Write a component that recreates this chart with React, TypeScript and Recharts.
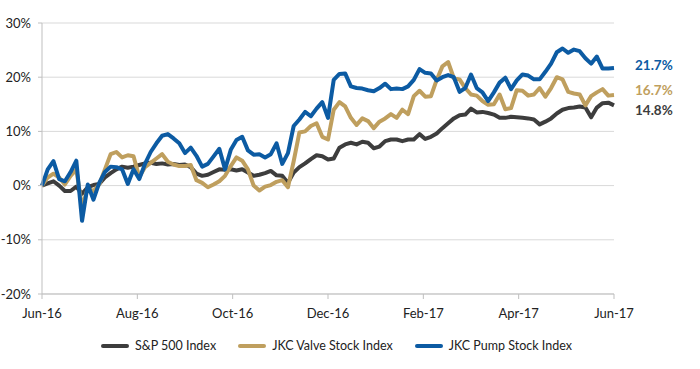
import { CartesianGrid, LabelList, Line, LineChart, XAxis, YAxis } from "recharts";

const months = ["Jun-16", "Aug-16", "Oct-16", "Dec-16", "Feb-17", "Apr-17", "Jun-17"];

// cumulative change, % (about one reading per 2.5 trading days)
const sp500 = [
  0, 0.4, 0.8, 0, -1, -1, -0.2, -1.5, -0.3, 0.1,
  0.3, 1.5, 2.3, 3, 3.5, 3.3, 3.5, 3.8, 4.1, 4.2,
  4, 4.1, 3.9, 4, 3.8, 3.9, 3.4, 2.2, 1.8, 2,
  2.5, 3, 2.9, 3, 2.8, 3, 2.4, 1.8, 2, 2.3,
  2.7, 1.9, 1.8, 0.5, 2.4, 3.4, 4.1, 4.9, 5.6, 5.4,
  4.8, 5, 7, 7.6, 7.9, 7.6, 8.1, 7.9, 6.9, 7.2,
  8.2, 8.5, 8.5, 8.2, 8.5, 8.5, 9.5, 8.6, 9, 9.6,
  10.6, 11.5, 12.4, 13, 13.1, 14.2, 13.5, 13.6, 13.4, 13.1,
  12.5, 12.5, 12.7, 12.6, 12.5, 12.4, 12.2, 11.3, 11.8, 12.4,
  13.3, 14, 14.3, 14.4, 14.6, 14.4, 12.6, 14.4, 15.2, 15.3,
  14.8,
];

const valve = [
  0, 1.5, 2.2, 1.5, 0.2, 1.8, 3, -4, -0.5, -1,
  0.2, 3, 5.8, 6.2, 5.2, 5.6, 5.4, 1.6, 3.4, 4.2,
  5, 5.8, 4.4, 3.9, 3.6, 3.6, 3.8, 1, 0.5, -0.3,
  0.2, 0.8, 1.8, 3.6, 5.2, 4.6, 3, 0, -0.9, -0.2,
  0.1, 0.7, 1, -0.3, 4.5, 9.8, 10, 11, 11.5, 9,
  8.5, 14, 15.4, 14.6, 12.5, 11.2, 12.4, 11.9, 10.6, 11.8,
  12.4, 13.2, 12.5, 14, 13.2, 16.5, 17.5, 16.4, 16.5, 19.5,
  22, 22.8, 19.8, 19.6, 18, 16.8, 16.6, 15.6, 14.9, 15,
  16.8, 14.1, 14.3, 17.6, 17.5, 16.6, 16.8, 18, 16.4, 18,
  20, 19.6, 17.3, 17, 16.8, 14.8, 16.5, 17.2, 17.8, 16.6,
  16.7,
];

const pump = [
  0, 3, 4.5, 1.2, 0.8, 2.5, 4.6, -6.5, 0.2, -2.6,
  0.5, 2.5, 3.5, 3.4, 3, 0.3, 3, 1.2, 4, 6.2,
  7.8, 9.2, 9.5, 8.7, 7.8, 6, 7, 5.5, 3.5, 4,
  5.4, 6.8, 3, 6.6, 8.4, 9, 6.5, 5.7, 5.8, 5.2,
  5.8, 7.8, 4, 6, 11, 12.2, 13.6, 12.8, 14.2, 15.4,
  12.5, 19.5, 20.6, 20.7, 18.3, 18, 17.9, 17.6, 17.4, 18,
  18.8, 17.8, 17.9, 17.8, 18.3, 19.5, 21.5, 20.8, 20.7, 19.4,
  20, 20.4, 20, 17.3, 18, 20.5, 18, 17.2, 15.6, 17.2,
  19, 19.9, 17.8, 19.4, 20.5, 20.3, 19.6, 19.6, 21, 22.5,
  24.6, 25.3, 24.5, 25.1, 24.8, 23.5, 22.5, 23.8, 21.6, 21.6,
  21.7,
];

const endLabels = ["14.8%", "16.7%", "21.7%"];

const last = pump.length - 1;
const data = pump.map((_, i) => ({ i, sp: sp500[i], valve: valve[i], pump: pump[i] }));
const monthTicks = months.map((_, k) => (k * last) / (months.length - 1));

const series = [
  { key: "sp", name: "S&P 500 Index", color: "#3d3d3d", label: endLabels[0], dy: 5 },
  { key: "valve", name: "JKC Valve Stock Index", color: "#bf9f5e", label: endLabels[1], dy: -5 },
  { key: "pump", name: "JKC Pump Stock Index", color: "#0c5ba3", label: endLabels[2], dy: -3 },
];

const font = "Lato, 'Open Sans', sans-serif";

function LegendRow() {
  return (
    <div
      style={{
        position: "absolute",
        left: 101,
        top: 338,
        display: "flex",
        alignItems: "center",
        fontFamily: font,
        fontSize: 12.5,
        color: "#222",
        lineHeight: "16px",
      }}
    >
      {series.map((s) => (
        <div key={s.key} style={{ display: "flex", alignItems: "center", marginRight: 22 }}>
          <div style={{ width: 28, height: 4, borderRadius: 2, background: s.color, marginRight: 6 }} />
          <span>{s.name}</span>
        </div>
      ))}
    </div>
  );
}

export default function App() {
  return (
    <div style={{ position: "absolute", left: 0, top: 0, width: 700, height: 369, background: "#fff" }}>
      <LineChart width={700} height={369} data={data} margin={{ top: 23, right: 86, bottom: 45, left: 0 }}>
        <CartesianGrid horizontal vertical={false} stroke="#d9d9d9" />
        <XAxis
          dataKey="i"
          type="number"
          domain={[0, last]}
          ticks={monthTicks}
          tickFormatter={(v: number) => months[Math.round((v * (months.length - 1)) / last)]}
          stroke="#bfbfbf"
          tickSize={5}
          tickMargin={10}
          tick={{ fill: "#222", fontSize: 13, fontFamily: font }}
          height={30}
        />
        <YAxis
          domain={[-20, 30]}
          ticks={[-20, -10, 0, 10, 20, 30]}
          tickFormatter={(v: number) => `${v}%`}
          stroke="#bfbfbf"
          tickSize={4}
          tickMargin={7}
          width={42}
          tick={{ fill: "#222", fontSize: 13, fontFamily: font }}
        />
        {series.map((s) => (
          <Line
            key={s.key}
            dataKey={s.key}
            name={s.name}
            type="linear"
            stroke={s.color}
            strokeWidth={4}
            strokeLinejoin="round"
            dot={false}
            isAnimationActive={false}
          >
            <LabelList
              dataKey={s.key}
              content={(p: any) =>
                p.index === last ? (
                  <text
                    x={p.x + 21}
                    y={p.y + s.dy}
                    dominantBaseline="central"
                    fill={s.color}
                    fontFamily={font}
                    fontWeight={700}
                    fontSize={13.5}
                  >
                    {s.label}
                  </text>
                ) : null
              }
            />
          </Line>
        ))}
      </LineChart>
      <LegendRow />
    </div>
  );
}
